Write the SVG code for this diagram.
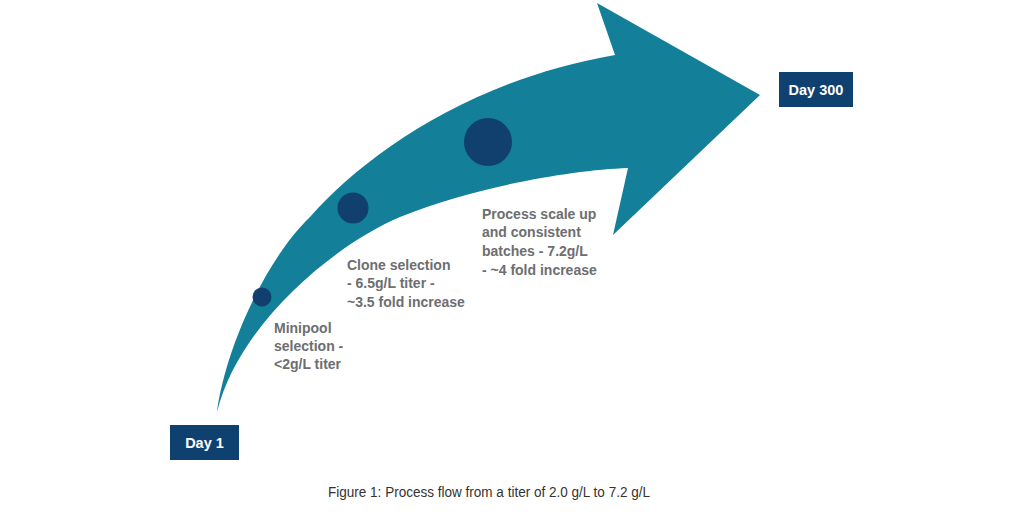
<svg xmlns="http://www.w3.org/2000/svg" width="1024" height="512" viewBox="0 0 1024 512">
<style>
.lbl{font-family:"Liberation Sans",Arial,sans-serif;font-weight:bold;font-size:14px;fill:#6d6e70}
.box{fill:#0f4170}
.boxt{font-family:"Liberation Sans",Arial,sans-serif;font-weight:bold;font-size:14.5px;fill:#ffffff;text-anchor:middle}
.dot{fill:#11406e}
.cap{font-family:"Liberation Sans",Arial,sans-serif;font-size:14px;fill:#333333}
</style>
<rect width="1024" height="512" fill="#ffffff"/>
<g id="connectors">
<path id="arrow" fill="#137f99" d="M217,412 C225,350 265,260 310,217 C365,155 470,80 615,55 L597,3 L760,95 L613,235 L628,168 C570,170 470,188 400,217 C340,242 240,320 217,412 Z"/>
</g>
<g id="minipool">
<circle class="dot" cx="262" cy="297" r="9.5"/>
<text class="lbl"><tspan x="274" y="333">Minipool</tspan><tspan x="274" y="351">selection -</tspan><tspan x="274" y="369">&lt;2g/L titer</tspan></text>
</g>
<g id="clone">
<circle class="dot" cx="353" cy="208" r="15.5"/>
<text class="lbl"><tspan x="347" y="270">Clone selection</tspan><tspan x="347" y="288">- 6.5g/L titer -</tspan><tspan x="347" y="307">~3.5 fold increase</tspan></text>
</g>
<g id="process">
<circle class="dot" cx="488" cy="142" r="24"/>
<text class="lbl"><tspan x="482" y="219">Process scale up</tspan><tspan x="482" y="237">and consistent</tspan><tspan x="482" y="256">batches - 7.2g/L</tspan><tspan x="482" y="275">- ~4 fold increase</tspan></text>
</g>
<g id="day1">
<rect class="box" x="170" y="425" width="69" height="35"/>
<text class="boxt" x="204.5" y="447.5">Day 1</text>
</g>
<g id="day300">
<rect class="box" x="779" y="72" width="74" height="35"/>
<text class="boxt" x="816" y="94.5">Day 300</text>
</g>
<text class="cap" x="328" y="497" textLength="322" lengthAdjust="spacingAndGlyphs">Figure 1: Process flow from a titer of 2.0 g/L to 7.2 g/L</text>
</svg>
